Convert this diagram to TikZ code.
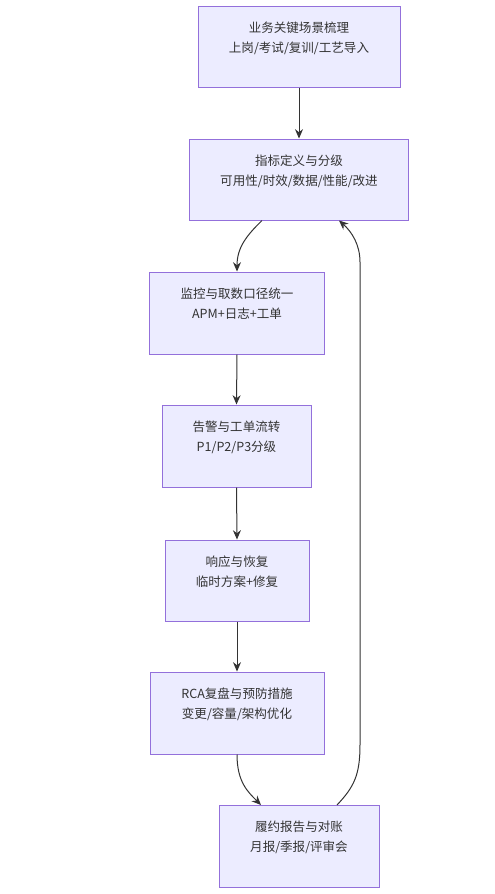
\documentclass[tikz,border=0pt]{standalone}
\usepackage{fontspec}
\newfontfamily\cjk{Noto Sans CJK SC}
\usepackage{tikz}
\usetikzlibrary{arrows.meta,positioning}
\definecolor{boxfill}{HTML}{ECECFF}
\definecolor{boxline}{HTML}{9370DB}
\definecolor{inkgrey}{HTML}{333333}
\tikzset{
  stage/.style 2 args={rectangle, draw=boxline, fill=boxfill, line width=0.75pt, inner sep=0pt, minimum width={#1*0.75pt}, minimum height={#2*0.75pt}},
  caption/.style={font=\cjk\fontsize{9.4}{15}\selectfont, text=inkgrey, align=center, anchor=north, inner sep=0pt},
  flow/.style={-{Stealth[length=7pt,width=6pt]}, line width=0.75pt, draw=inkgrey},
}
\begin{document}
\begin{tikzpicture}[x=0.75pt,y=-0.75pt]
  \useasboundingbox (0,0) rectangle (495,894);
  % stages
  \node[stage={202}{81}] (scene) at (299,46.5) {};
  \node[stage={219}{81}] (kpi)   at (299,179.5) {};
  \node[stage={175}{82}] (mon)   at (237,313) {};
  \node[stage={149}{82}] (alarm) at (236.5,446) {};
  \node[stage={144}{81}] (resp)  at (237,580.5) {};
  \node[stage={174}{82}] (rca)   at (237,713) {};
  \node[stage={160}{82}] (report) at (299,846.5) {};
  % captions
  \node[caption] (scenetxt)  at ([yshift=-12pt]scene.north)  {业务关键场景梳理\\上岗/考试/复训/工艺导入};
  \node[caption] (kpitxt)    at ([yshift=-12pt]kpi.north)    {指标定义与分级\\可用性/时效/数据/性能/改进};
  \node[caption] (montxt)    at ([yshift=-12pt]mon.north)    {监控与取数口径统一\\APM+日志+工单};
  \node[caption] (alarmtxt)  at ([yshift=-12pt]alarm.north)  {告警与工单流转\\P1/P2/P3分级};
  \node[caption] (resptxt)   at ([yshift=-12pt]resp.north)   {响应与恢复\\临时方案+修复};
  \node[caption] (rcatxt)    at ([yshift=-12pt]rca.north)    {RCA复盘与预防措施\\变更/容量/架构优化};
  \node[caption] (reporttxt) at ([yshift=-12pt]report.north) {履约报告与对账\\月报/季报/评审会};
  % connectors
  \draw[flow] (scene.south) -- (kpi.north);
  \draw[flow] ([xshift=-27.75pt]kpi.south) .. controls (246,236) and (237,248) .. (mon.north);
  \draw[flow] (mon.south) -- (alarm.north);
  \draw[flow] (alarm.south) -- (resp.north);
  \draw[flow] (resp.south) -- (rca.north);
  \draw[flow] (rca.south) .. controls (237,782) and (248,792) .. ([xshift=-28.5pt]report.north);
  \draw[flow] ([xshift=28.5pt]report.north) .. controls (354,787) and (360,775) .. (360,745)
    -- (360,262) .. controls (360,245) and (352,232) .. ([xshift=30pt]kpi.south);
\end{tikzpicture}
\end{document}
